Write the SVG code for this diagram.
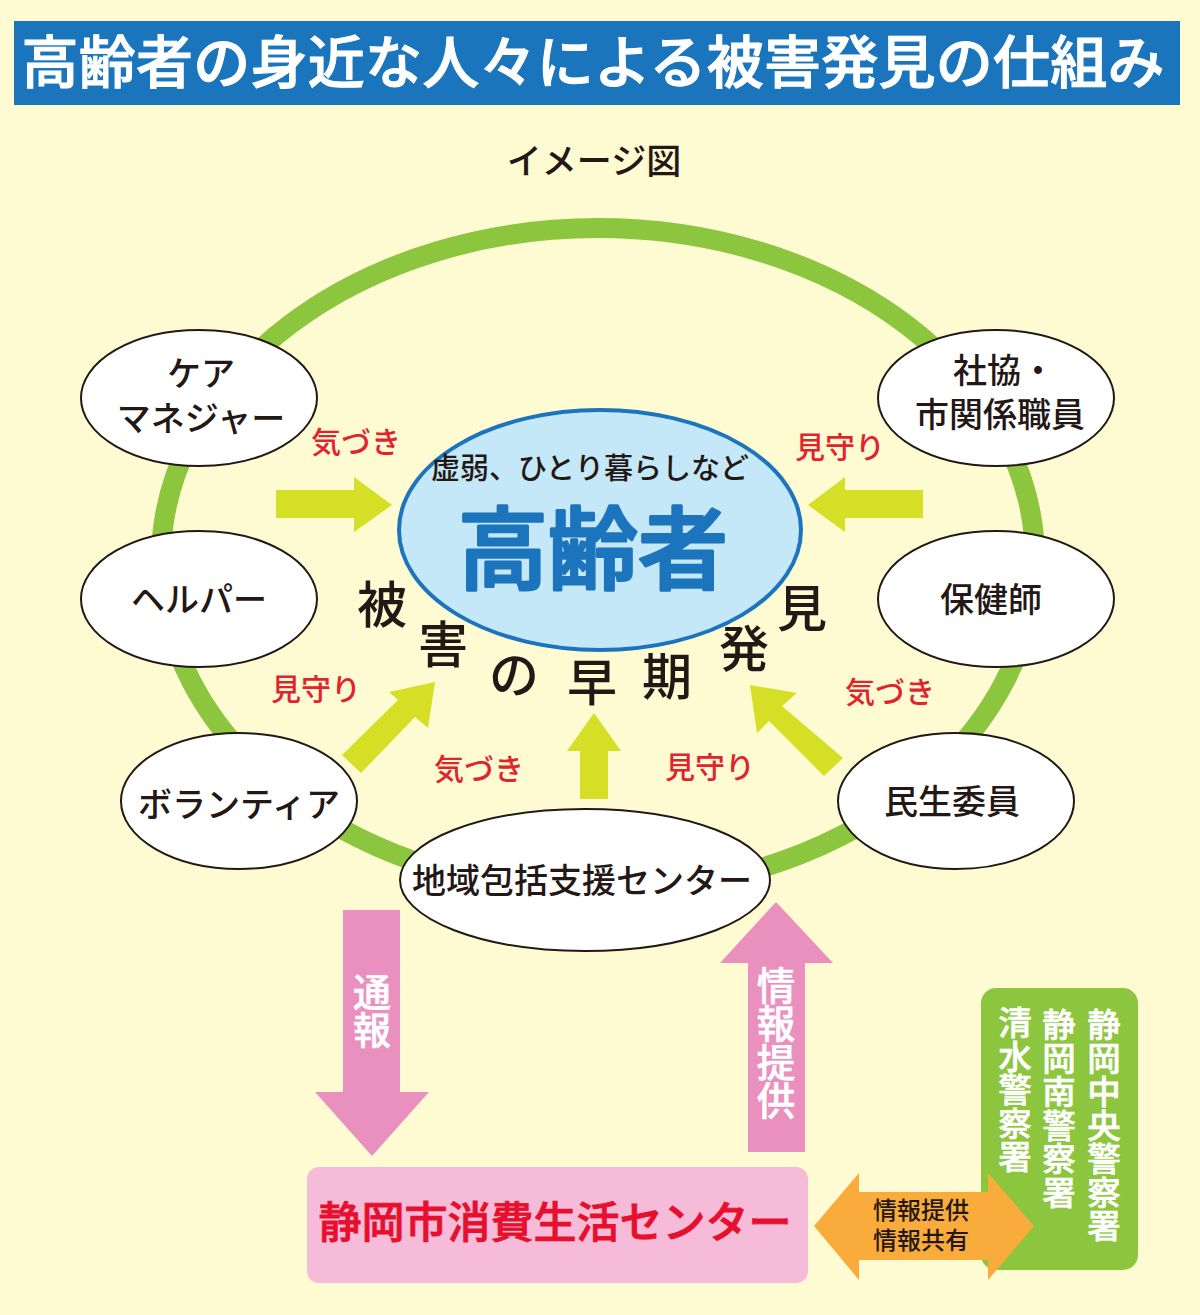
<svg xmlns="http://www.w3.org/2000/svg" width="1200" height="1315" viewBox="0 0 1200 1315">
<style>
text{font-family:"Noto Sans CJK JP","Noto Sans",sans-serif;text-anchor:middle;fill:#231815;font-weight:500}
.n{fill:#fff;stroke:#231815;stroke-width:2}
.nt{font-size:34px}
.w{fill:#fff;stroke:#fff;stroke-width:1}
.r{fill:#e0242f;font-size:30px}
.h{font-size:50px}
.y{fill:#d4df26}
.p{fill:#ea90bf}
.v{writing-mode:vertical-rl;text-anchor:start;fill:#fff;stroke:#fff;stroke-width:.6}
</style>
<rect width="1200" height="1315" fill="#fefad2"/>
<g id="title"><rect x="14" y="21" width="1166" height="84" fill="#1b75bc"/>
<text x="593" y="83" class="w" font-size="57" textLength="1143" lengthAdjust="spacing">高齢者の身近な人々による被害発見の仕組み</text></g>
<text id="subtitle" x="594" y="174" font-size="35">イメージ図</text>
<ellipse id="ring" cx="598" cy="560" rx="437" ry="332" fill="none" stroke="#8cc63f" stroke-width="20"/>
<g id="connectors">
<polygon class="y" points="276,490 354,490 354,477 392,505 354,532 354,518 276,518"/>
<polygon class="y" points="923,490 845,490 845,477 808,505 845,532 845,518 923,518"/>
<polygon class="y" points="594,713 621,751 608,751 608,799 580,799 580,751 567,751"/>
<polygon class="y" points="435,682 428,728 415,717 361,773 342,755 398,700 389,692"/>
<polygon class="y" points="750,685 797,693 782,706 843,758 824,776 769,721 757,733"/>
<polygon class="p" points="343,910 400,910 400,1092 429,1092 372,1156 315,1092 343,1092"/>
<polygon class="p" points="748,1152 805,1152 805,963 833,963 776,902 720,963 748,963"/>
</g>
<g id="labels">
<text class="r" x="356" y="453">気づき</text>
<text class="r" x="840" y="458">見守り</text>
<text class="r" x="316" y="700">見守り</text>
<text class="r" x="890" y="703">気づき</text>
<text class="r" x="479" y="780">気づき</text>
<text class="r" x="710" y="778">見守り</text>
<text class="v" x="372" y="973" font-size="38">通報</text>
<text class="v" x="776" y="966" font-size="38.5">情報提供</text>
</g>
<g id="care"><ellipse class="n" cx="199" cy="398" rx="118" ry="68"/><text class="nt" x="201" y="386">ケア</text><text class="nt" x="201" y="431">マネジャー</text></g>
<g id="shakyo"><ellipse class="n" cx="996" cy="398" rx="118" ry="68"/><text class="nt" x="1004" y="383">社協・</text><text class="nt" x="1000" y="427">市関係職員</text></g>
<g id="helper"><ellipse class="n" cx="199" cy="599" rx="118" ry="68"/><text class="nt" x="199" y="612">ヘルパー</text></g>
<g id="hokenshi"><ellipse class="n" cx="996" cy="599" rx="118" ry="68"/><text class="nt" x="991" y="612">保健師</text></g>
<g id="volunteer"><ellipse class="n" cx="239" cy="801" rx="118" ry="68"/><text class="nt" x="239" y="817">ボランティア</text></g>
<g id="minsei"><ellipse class="n" cx="956" cy="801" rx="118" ry="68"/><text class="nt" x="952" y="814">民生委員</text></g>
<g id="chiiki"><ellipse class="n" cx="585" cy="880" rx="185" ry="71"/><text class="nt" x="582" y="893">地域包括支援センター</text></g>
<g id="elderly"><ellipse cx="600" cy="530" rx="201" ry="120" fill="#c5e8f8" stroke="#1c75bc" stroke-width="4"/>
<text x="590" y="479" font-size="29">虚弱、ひとり暮らしなど</text>
<text x="593" y="582" font-size="90" font-weight="700" stroke="#1c75bc" stroke-width="3" stroke-linejoin="round" style="fill:#1c75bc">高齢者</text></g>
<g id="early-detection">
<text class="h" x="382" y="623">被</text><text class="h" x="443" y="663">害</text><text class="h" x="514" y="693">の</text><text class="h" x="592" y="701">早</text><text class="h" x="667" y="695">期</text><text class="h" x="744" y="667">発</text><text class="h" x="802" y="627">見</text>
</g>
<g id="center"><rect x="307" y="1167" width="501" height="116" rx="12" fill="#f6bbd8"/>
<text x="555" y="1238" font-size="43" font-weight="700" stroke="#e60f2e" stroke-width=".8" style="fill:#e60f2e">静岡市消費生活センター</text></g>
<g id="police"><rect x="981" y="988" width="157" height="282" rx="15" fill="#8cc63f"/>
<text class="v" x="1104" y="1008" font-size="33.5">静岡中央警察署</text>
<text class="v" x="1059" y="1008" font-size="33.5">静岡南警察署</text>
<text class="v" x="1015" y="1006" font-size="33.5">清水警察署</text></g>
<g id="share"><polygon points="814,1226 859,1173 859,1192 988,1192 988,1173 1034,1226 988,1280 988,1260 859,1260 859,1280" fill="#f9ab3c"/>
<text x="921" y="1219" font-size="24">情報提供</text><text x="921" y="1249" font-size="24">情報共有</text></g>
</svg>
